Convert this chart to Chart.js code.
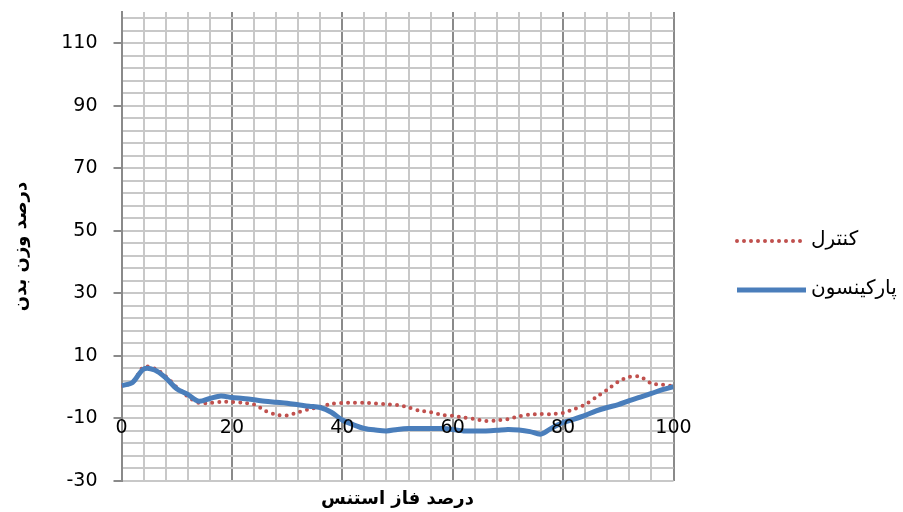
<!DOCTYPE html>
<html>
<head>
<meta charset="utf-8">
<script src="https://cdn.jsdelivr.net/npm/chart.js@4.4.1/dist/chart.umd.min.js"></script>
<style>
html, body { margin: 0; padding: 0; background: #fff; }
#wrap { width: 903px; height: 512px; position: relative; }
</style>
</head>
<body>
<div id="wrap"><canvas id="chart"></canvas></div>
<script>
// data
const seriesNames = ["کنترل", "پارکینسون"];
const xTitle = "درصد فاز استنس";
const yTitle = "درصد وزن بدن";

const stancePct = [0, 2, 4, 6, 8, 10, 12, 14, 16, 18, 20, 22, 24, 26, 28, 30, 32, 34, 36, 38, 40,
    42, 44, 46, 48, 50, 52, 54, 56, 58, 60, 62, 64, 66, 68, 70, 72, 74, 76, 78, 80,
    82, 84, 86, 88, 90, 92, 94, 96, 98, 100];

const kontrol = [0.5, 1.5, 6.5, 6, 3.5, 0, -3, -5, -5, -4.7, -4.7, -5, -5.5, -7.5, -8.8, -9, -8, -7, -6.3, -5.3, -5,
    -5, -5, -5.2, -5.5, -5.7, -6.5, -7.5, -8, -8.8, -9.2, -9.7, -10.2, -10.8, -10.6, -10.2, -9.3, -8.7, -8.6, -8.6, -8.2,
    -7, -5.5, -3.2, -0.8, 1.8, 3.3, 3.3, 1.2, 0.8, 0.3];

const parkinson = [0.5, 1.5, 5.8, 5.5, 3, -0.5, -2.3, -4.5, -3.6, -2.8, -3.3, -3.6, -4, -4.5, -4.8, -5.1, -5.6, -6.1, -6.5, -8, -10.5,
    -12, -13.2, -13.7, -14, -13.5, -13.2, -13.2, -13.2, -13.2, -13.5, -14, -14, -14, -13.8, -13.5, -13.7, -14.2, -15, -13, -11.3,
    -10.2, -9, -7.6, -6.5, -5.6, -4.3, -3.2, -2, -0.8, 0.2];

const yTickLabels = [-30, -10, 10, 30, 50, 70, 90, 110];
const xTickLabels = [0, 20, 40, 60, 80, 100];

// ukuran & gaya
const Y_MIN = -30, Y_MAX = 120, GRID_STEP = 4;
const FONT = "'DejaVu Sans', sans-serif";
const MAJOR = '#8a8a8a';
const MINOR = '#c8c8c8';

function gridTicks(min, max) {
    const t = [];
    for (let v = min; v <= max; v += GRID_STEP) t.push({ value: v });
    return t;
}

function toPoints(values) {
    return stancePct.map((x, i) => ({ x: x, y: values[i] }));
}

// legenda di sisi kanan
const sideLegend = {
    id: 'sideLegend',
    afterDraw(chart) {
        const ctx = chart.ctx;
        const rows = [241, 290];
        chart.data.datasets.forEach((ds, i) => {
            const y = rows[i];
            ctx.save();
            ctx.strokeStyle = ds.borderColor;
            ctx.lineWidth = ds.borderWidth;
            ctx.lineCap = ds.borderCapStyle || 'butt';
            ctx.setLineDash(ds.borderDash || []);
            ctx.beginPath();
            ctx.moveTo(737, y);
            ctx.lineTo(ds.borderDash ? 802 : 806, y);
            ctx.stroke();
            ctx.setLineDash([]);
            ctx.fillStyle = '#000';
            ctx.font = `20px ${FONT}`;
            ctx.textAlign = 'left';
            ctx.textBaseline = 'middle';
            ctx.fillText(ds.label, 811, y - 1);
            ctx.restore();
        });
    }
};

const ctx = document.getElementById('chart').getContext('2d');
new Chart(ctx, {
    type: 'line',
    data: {
        datasets: [
            {
                label: seriesNames[0],
                data: toPoints(kontrol),
                borderColor: '#c0504d',
                borderWidth: 4,
                borderDash: [0, 7],
                borderCapStyle: 'round',
                pointRadius: 0,
                tension: 0.3,
                order: 1
            },
            {
                label: seriesNames[1],
                data: toPoints(parkinson),
                borderColor: '#4a7ebb',
                borderWidth: 5,
                pointRadius: 0,
                tension: 0.3,
                order: 0
            }
        ]
    },
    options: {
        responsive: true,
        maintainAspectRatio: false,
        animation: false,
        layout: { padding: { top: 12, right: 229.5, bottom: 0, left: 0 } },
        plugins: {
            legend: { display: false },
            tooltip: { enabled: false }
        },
        scales: {
            x: {
                type: 'linear',
                min: 0,
                max: 100,
                afterBuildTicks: s => { s.ticks = gridTicks(0, 100); },
                afterFit: s => { s.height = 31; s.paddingLeft = 0; s.paddingRight = 0; },
                grid: {
                    color: c => (xTickLabels.includes(c.tick.value) ? MAJOR : MINOR),
                    lineWidth: 2,
                    drawTicks: false
                },
                border: { display: false },
                ticks: {
                    // label sumbu x digambar di dalam area plot, di atas garis data
                    mirror: true,
                    z: 1,
                    padding: 42,
                    maxRotation: 0,
                    autoSkip: false,
                    color: '#000',
                    font: { family: FONT, size: 19 },
                    callback: v => (xTickLabels.includes(v) ? String(v) : '')
                },
                title: {
                    display: true,
                    text: xTitle,
                    color: '#000',
                    font: { family: FONT, size: 18, weight: 'bold' },
                    padding: { top: 0, bottom: 2 }
                }
            },
            y: {
                min: Y_MIN,
                max: Y_MAX,
                afterBuildTicks: s => { s.ticks = gridTicks(Y_MIN, Y_MAX - 2); },
                afterFit: s => { s.width = 121.5; s.paddingTop = 0; s.paddingBottom = 0; },
                grid: {
                    color: c => (c.tick.value === 0 ? MAJOR : MINOR),
                    lineWidth: 2,
                    tickLength: 8,
                    tickColor: c => (yTickLabels.includes(c.tick.value) ? MAJOR : 'rgba(0,0,0,0)')
                },
                border: { display: true, color: MAJOR, width: 2 },
                ticks: {
                    padding: 16,
                    autoSkip: false,
                    color: '#000',
                    font: { family: FONT, size: 19 },
                    callback: v => (yTickLabels.includes(v) ? String(v) : '')
                },
                title: {
                    display: true,
                    text: yTitle,
                    color: '#000',
                    font: { family: FONT, size: 18, weight: 'bold' },
                    padding: { top: 11, bottom: 0 }
                }
            }
        }
    },
    plugins: [sideLegend]
});
</script>
</body>
</html>
